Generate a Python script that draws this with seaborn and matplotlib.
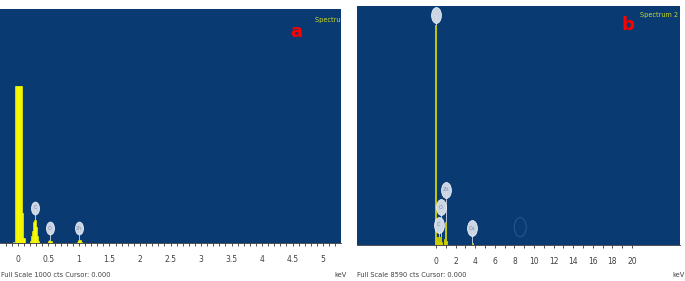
import numpy as np
import pandas as pd
import seaborn as sns
import matplotlib.pyplot as plt
from matplotlib.path import Path
from matplotlib.transforms import Affine2D

# spectrum 1 (keV bin centres, counts)
energy_a = [-0.08, -0.04, -0.02, 0.00, 0.02, 0.04, 0.06, 0.08, 0.10,
            0.20, 0.22, 0.24, 0.26, 0.28, 0.30, 0.32, 0.34,
            0.50, 0.52, 0.54, 0.98, 1.00, 1.02, 1.04]
counts_a = [5, 670, 670, 670, 670, 670, 670, 130, 20,
            10, 28, 50, 90, 100, 70, 28, 10,
            8, 14, 8, 6, 14, 14, 6]
elements_a = ["C", "O", "Zn"]
elem_kev_a = [0.28, 0.52, 1.00]
elem_peak_a = [100, 14, 14]
elem_label_a = [150, 64, 64]
ticks_a = [0, 0.5, 1, 1.5, 2, 2.5, 3, 3.5, 4, 4.5, 5]

# spectrum 2
energy_b = [0.0, 0.1, 0.2, 0.3, 0.4, 0.5, 0.6, 0.9, 1.0, 1.1, 3.7]
counts_b = [7900, 300, 150, 300, 120, 280, 100, 200, 830, 150, 60]
elements_b = ["", "C", "O", "Zn", "Ca"]
elem_kev_b = [0.0, 0.28, 0.52, 1.0, 3.7]
elem_peak_b = [7900, 300, 280, 830, 60]
elem_label_b = [8270, 720, 1365, 1977, 610]
ticks_b = list(range(0, 21, 2))

BG = "#0a3a72"
W, H = 685, 281

sns.set_style("white")
plt.rcParams['font.family'] = ['DejaVu Sans']

fig = plt.figure(figsize=(W / 100, H / 100), dpi=100)

# tall oval used for the element markers
oval = Path.unit_circle().transformed(Affine2D().scale(0.62, 1.0))


def px_axes(x0, y0, x1, y1):
    return fig.add_axes([x0 / W, 1 - y1 / H, (x1 - x0) / W, (y1 - y0) / H])


def draw_labels(ax, names, kev, peak, lab, fs, size):
    for n, e, p, l in zip(names, kev, peak, lab):
        ax.plot([e, e], [p, l], color="#b8c4d8", lw=0.7, zorder=3)
    ax.scatter(kev, lab, marker=oval, s=size, c="#d6dde9", edgecolors="#eef2f8",
               linewidths=0.6, alpha=0.95, zorder=4)
    for n, e, l in zip(names, kev, lab):
        ax.text(e, l, n, ha="center", va="center", fontsize=fs,
                color="#7d8ca6", zorder=5, fontstretch="condensed")


def style_axis(ax, ticks, minor):
    ax.set_facecolor(BG)
    for s in ["top", "right", "left"]:
        ax.spines[s].set_visible(False)
    ax.spines["bottom"].set_color("#333333")
    ax.spines["bottom"].set_linewidth(0.6)
    ax.set_yticks([])
    ax.set_xticks(ticks)
    ax.set_xticklabels([("%g" % t) for t in ticks])
    ax.set_xticks(minor, minor=True)
    ax.tick_params(axis="x", which="both", direction="out", length=2.5,
                   width=0.6, color="#333333", labelsize=5.5,
                   labelcolor="#404040", pad=6, bottom=True)
    ax.set_xlabel("")
    ax.set_ylabel("")


spec_a = pd.DataFrame({"energy": energy_a, "counts": counts_a})
spec_b = pd.DataFrame({"energy": energy_b, "counts": counts_b})

# panel a
ax1 = px_axes(0, 9, 341, 243)
sns.histplot(data=spec_a, x="energy", weights="counts",
             binwidth=0.02, binrange=(-0.09, 1.05),
             color="#ffff00", edgecolor="#ffff00", linewidth=0.4,
             alpha=1, ax=ax1)
ax1.set_xlim(-0.295, 5.295)
ax1.set_ylim(0, 1000)
style_axis(ax1, ticks_a, np.arange(-0.2, 5.3, 0.1))
draw_labels(ax1, elements_a, elem_kev_a, elem_peak_a, elem_label_a, 3.8, 85)
ax1.text(0.925, 0.965, "Spectrum 1", transform=ax1.transAxes, ha="left",
         va="top", fontsize=5.2, color="#c8dc28", fontstretch="condensed",
         clip_on=True)
ax1.text(0.868, 0.9, "a", transform=ax1.transAxes, ha="center",
         va="center", fontsize=13, color="#ff0000", fontweight="bold")

# panel b
ax2 = px_axes(357, 6, 680, 245)
sns.histplot(data=spec_b, x="energy", weights="counts",
             binwidth=0.1, binrange=(-0.05, 3.75),
             color="#d0d000", edgecolor="#d0d000", linewidth=0.6,
             alpha=1, ax=ax2)
ax2.set_xlim(-8.06, 24.9)
ax2.set_ylim(0, 8590)
style_axis(ax2, ticks_b, np.arange(0, 21, 1))
draw_labels(ax2, elements_b, elem_kev_b, elem_peak_b, elem_label_b, 4.0, 130)
ax2.scatter([8.6], [640], marker=oval, s=190, c="none", edgecolors="#2a5894",
            linewidths=0.7, zorder=2)
ax2.text(0.995, 0.975, "Spectrum 2", transform=ax2.transAxes, ha="right",
         va="top", fontsize=5.2, color="#c8dc28", fontstretch="condensed")
ax2.text(0.84, 0.92, "b", transform=ax2.transAxes, ha="center",
         va="center", fontsize=13, color="#ff0000", fontweight="bold")

# bottom captions
fig.text(1 / W, 1 - 275 / H, "Full Scale 1000 cts Cursor: 0.000",
         fontsize=4.8, color="#404040", va="center", ha="left")
fig.text(334 / W, 1 - 275 / H, "keV", fontsize=4.8, color="#404040",
         va="center", ha="left")
fig.text(357 / W, 1 - 275 / H, "Full Scale 8590 cts Cursor: 0.000",
         fontsize=4.8, color="#404040", va="center", ha="left")
fig.text(672 / W, 1 - 275 / H, "keV", fontsize=4.8, color="#404040",
         va="center", ha="left")

fig.savefig("out.png", dpi=100, facecolor="white")
